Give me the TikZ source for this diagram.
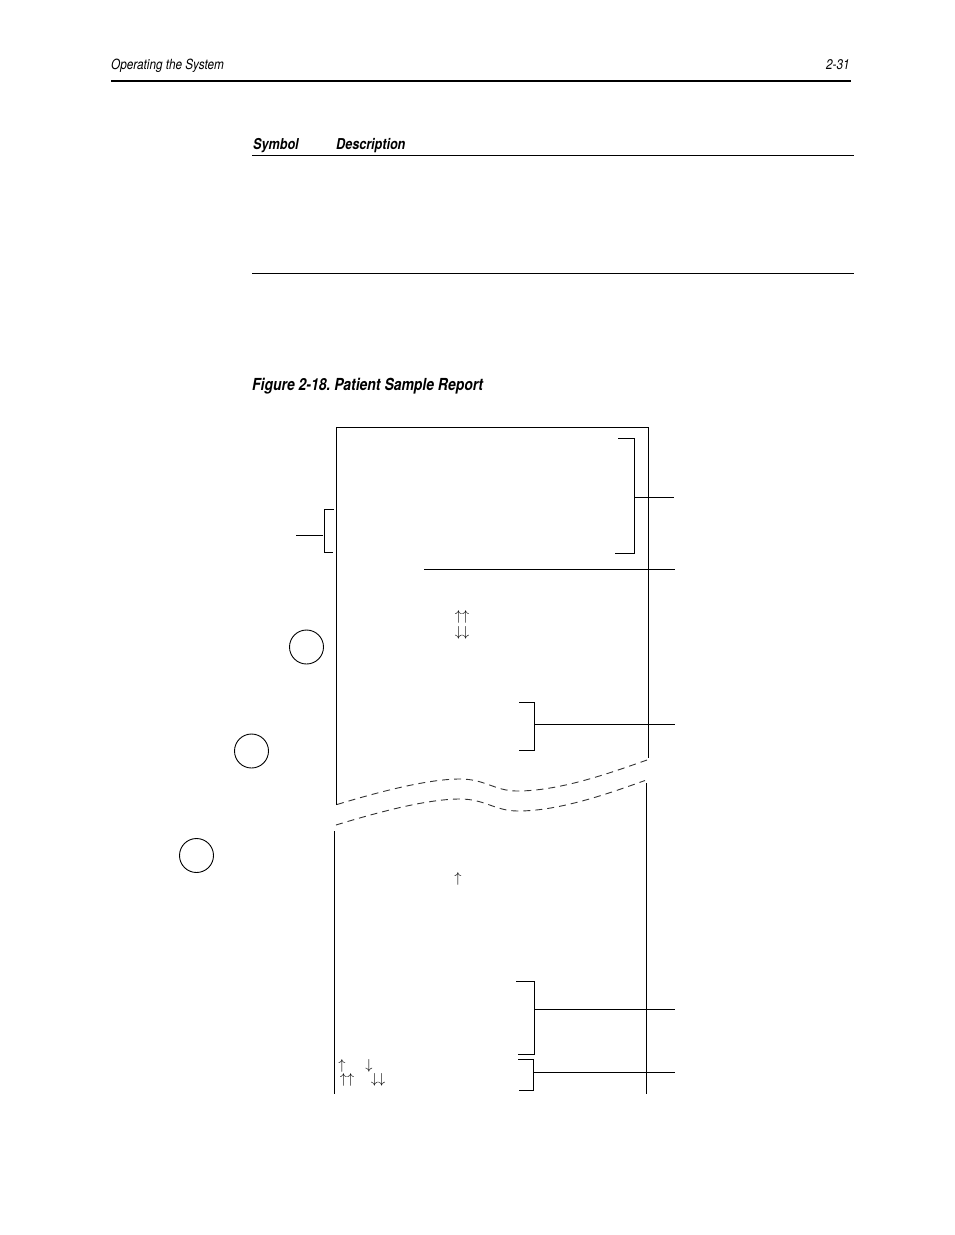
\documentclass[tikz,border=0pt]{standalone}
\usepackage{fontspec}
\setmainfont[FakeStretch=0.84]{TeX Gyre Heros}
\tikzset{
  rule/.style={line width=1.1pt,black},
  thickrule/.style={line width=2pt,black},
  paper/.style={line width=1.2pt,black},
  tear/.style={line width=0.9pt,black!80,dash pattern=on 7pt off 5pt},
  marker/.style={circle,draw=black,line width=0.9pt,minimum size=34pt,inner sep=0pt},
  head/.style={anchor=base west,inner sep=0pt,font=\fontsize{14}{16}\selectfont\itshape},
  headbold/.style={anchor=base west,inner sep=0pt,font=\fontsize{15}{17}\selectfont\itshape\bfseries},
  flag/.style={inner sep=0pt,font=\fontsize{13.5}{14}\selectfont}
}
\begin{document}
\frenchspacing
\begin{tikzpicture}[x=1pt,y=-1pt]
\useasboundingbox (0,0) rectangle (954,1235);
% page header
\node[head] (hdr) at (111,69) {Operating the System};
\node[head] (pg) at (826,69) {2-31};
\coordinate (hl) at (111,81); \coordinate (hr) at (851,81);
\draw[thickrule] (hl) -- (hr);
% table
\node[headbold] (sym) at (253,149) {Symbol};
\node[headbold] (desc) at (336,149) {Description};
\coordinate (t1l) at (252,155.5); \coordinate (t1r) at (854,155.5);
\coordinate (t2l) at (252,273.5); \coordinate (t2r) at (854,273.5);
\draw[rule] (t1l) -- (t1r);
\draw[rule] (t2l) -- (t2r);
\node[headbold,font=\fontsize{16.6}{19}\selectfont\itshape\bfseries] (cap) at (252,390) {Figure 2-18. Patient Sample Report};
% paper outline, top part
\coordinate (pa) at (336.5,805); \coordinate (pb) at (336.5,427.5);
\coordinate (pc) at (648.5,427.5); \coordinate (pd) at (648.5,757.5);
\draw[paper] (pa) -- (pb) -- (pc) -- (pd);
% paper outline, bottom part
\coordinate (qa) at (334.5,831); \coordinate (qb) at (334.5,1094);
\coordinate (qc) at (646.5,783); \coordinate (qd) at (646.5,1094);
\draw[paper] (qa) -- (qb);
\draw[paper] (qc) -- (qd);
% tear lines
\draw[tear] (337,804.5) .. controls (385,790) and (430,779) .. (460,779) .. controls (485,779) and (495,791) .. (517,791) .. controls (560,791) and (610,773) .. (647,760);
\draw[tear] (336,825) .. controls (385,810) and (430,799) .. (460,799) .. controls (485,799) and (495,811) .. (518,811) .. controls (560,811) and (610,793) .. (645,780.5);
% markers
\node[marker] (m1) at (306.5,647) {};
\node[marker] (m2) at (251.5,751) {};
\node[marker] (m3) at (196.5,855.5) {};
% brackets
\coordinate (b1a) at (618,438.5); \coordinate (b1b) at (634.5,438.5);
\coordinate (b1c) at (634.5,553.5); \coordinate (b1d) at (615,553.5);
\coordinate (b1m) at (634.5,497.5); \coordinate (b1e) at (674,497.5);
\draw[rule] (b1a) -- (b1b) -- (b1c) -- (b1d);
\draw[rule] (b1m) -- (b1e);
\coordinate (b2a) at (334,509.5); \coordinate (b2b) at (324.5,509.5);
\coordinate (b2c) at (324.5,552.5); \coordinate (b2d) at (333,552.5);
\coordinate (b2m) at (323,535.5); \coordinate (b2e) at (296,535.5);
\draw[rule] (b2a) -- (b2b) -- (b2c) -- (b2d);
\draw[rule] (b2m) -- (b2e);
\coordinate (l1) at (424,569.5); \coordinate (l2) at (675,569.5);
\draw[rule] (l1) -- (l2);
\coordinate (b3a) at (519,702.5); \coordinate (b3b) at (534.5,702.5);
\coordinate (b3c) at (534.5,750.5); \coordinate (b3d) at (519,750.5);
\coordinate (b3m) at (534.5,724.5); \coordinate (b3e) at (675,724.5);
\draw[rule] (b3a) -- (b3b) -- (b3c) -- (b3d);
\draw[rule] (b3m) -- (b3e);
\coordinate (b4a) at (516,981.5); \coordinate (b4b) at (534.5,981.5);
\coordinate (b4c) at (534.5,1054.5); \coordinate (b4d) at (518,1054.5);
\coordinate (b4m) at (534.5,1009.5); \coordinate (b4e) at (675,1009.5);
\draw[rule] (b4a) -- (b4b) -- (b4c) -- (b4d);
\draw[rule] (b4m) -- (b4e);
\coordinate (b5a) at (518,1059.5); \coordinate (b5b) at (533.5,1059.5);
\coordinate (b5c) at (533.5,1090.5); \coordinate (b5d) at (519,1090.5);
\coordinate (b5m) at (533.5,1072.5); \coordinate (b5e) at (675,1072.5);
\draw[rule] (b5a) -- (b5b) -- (b5c) -- (b5d);
\draw[rule] (b5m) -- (b5e);
% flag arrows
\node[flag] (f1) at (462,617) {$\uparrow\uparrow$};
\node[flag] (f2) at (462,633) {$\downarrow\downarrow$};
\node[flag] (f3) at (458,879) {$\uparrow$};
\node[flag] (f4) at (342,1066) {$\uparrow$};
\node[flag] (f5) at (369,1066) {$\downarrow$};
\node[flag] (f6) at (347,1079.5) {$\uparrow\uparrow$};
\node[flag] (f7) at (378,1079.5) {$\downarrow\downarrow$};
\end{tikzpicture}
\end{document}
